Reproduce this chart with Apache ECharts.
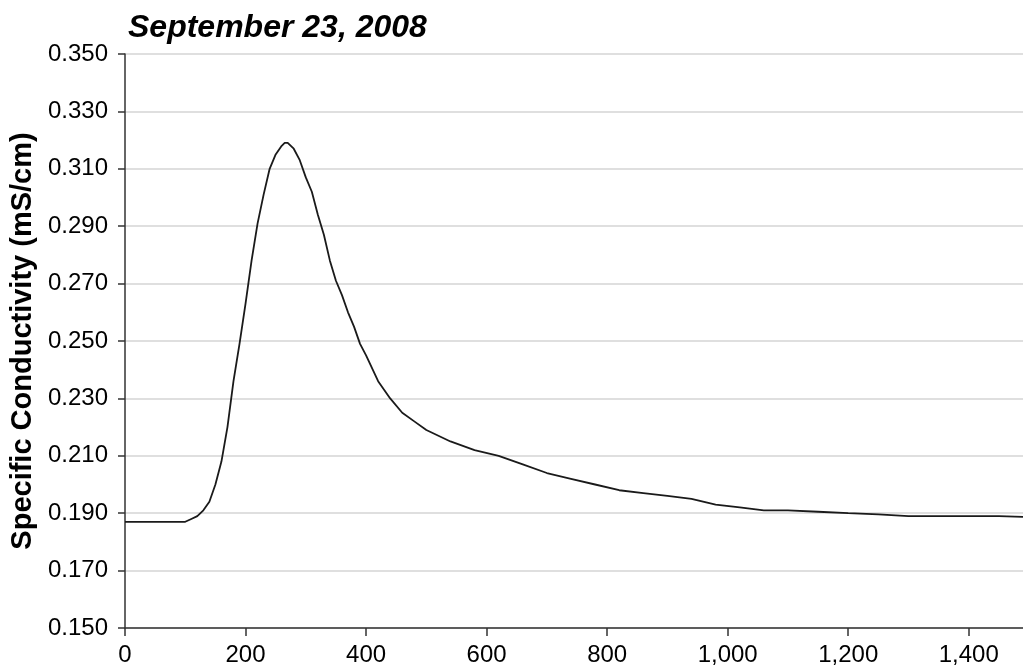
<!DOCTYPE html>
<html>
<head>
<meta charset="utf-8">
<script src="https://cdn.jsdelivr.net/npm/echarts@6/dist/echarts.min.js"></script>
<style>
html,body{margin:0;padding:0;background:#fff;}
#chart{width:1023px;height:671px;}
</style>
</head>
<body>
<div id="chart"></div>
<script>
// Elapsed time (x) and specific conductivity (mS/cm)
var timeValues = [0, 20, 40, 60, 80, 100, 110, 120, 130, 140, 150, 160, 170, 180, 190, 200, 210, 220, 230, 240, 250, 260, 265, 270, 280, 290, 300, 310, 320, 330, 340, 350, 360, 370, 380, 390, 400, 420, 440, 460, 480, 500, 540, 580, 620, 660, 700, 740, 780, 820, 860, 900, 940, 980, 1020, 1060, 1100, 1150, 1200, 1250, 1300, 1350, 1400, 1450, 1490];
var conductivity = [0.187, 0.187, 0.187, 0.187, 0.187, 0.187, 0.188, 0.189, 0.191, 0.194, 0.200, 0.208, 0.220, 0.236, 0.249, 0.263, 0.278, 0.291, 0.301, 0.310, 0.315, 0.318, 0.319, 0.319, 0.317, 0.313, 0.307, 0.302, 0.294, 0.287, 0.278, 0.271, 0.266, 0.260, 0.255, 0.249, 0.245, 0.236, 0.230, 0.225, 0.222, 0.219, 0.215, 0.212, 0.210, 0.207, 0.204, 0.202, 0.200, 0.198, 0.197, 0.196, 0.195, 0.193, 0.192, 0.191, 0.191, 0.1905, 0.190, 0.1896, 0.189, 0.189, 0.189, 0.189, 0.1887];
var titleText = 'September 23, 2008';
var yAxisTitle = 'Specific Conductivity (mS/cm)';
var xTickMin = 0, xTickMax = 1490, xTickStep = 200;
var yTickMin = 0.15, yTickMax = 0.35, yTickStep = 0.02;

var seriesData = timeValues.map(function (t, i) { return [t, conductivity[i]]; });
var FONT = '"Liberation Sans", Arial, sans-serif';

var chart = echarts.init(document.getElementById('chart'));
chart.setOption({
  animation: false,
  backgroundColor: '#ffffff',
  title: {
    text: titleText,
    left: 123,
    top: 7,
    textStyle: { fontFamily: FONT, fontSize: 32, fontWeight: 'bold', fontStyle: 'italic', color: '#000' }
  },
  grid: { left: 125, right: 0, top: 54, bottom: 43, containLabel: false },
  xAxis: {
    type: 'value',
    min: xTickMin, max: xTickMax, interval: xTickStep,
    axisLine: { onZero: false, lineStyle: { color: '#333', width: 1.5 } },
    axisTick: { show: true, length: 8, lineStyle: { color: '#333', width: 1.5 } },
    splitLine: { show: false },
    axisLabel: {
      showMaxLabel: false,
      margin: 15,
      fontFamily: FONT, fontSize: 24, color: '#000',
      formatter: function (v) { return Math.round(v).toLocaleString('en-US'); }
    }
  },
  yAxis: {
    type: 'value',
    min: yTickMin, max: yTickMax, interval: yTickStep,
    name: yAxisTitle,
    nameLocation: 'middle',
    nameRotate: 90,
    nameGap: 88,
    nameTextStyle: { fontFamily: FONT, fontSize: 29, fontWeight: 'bold', color: '#000' },
    axisLine: { show: true, onZero: false, lineStyle: { color: '#333', width: 1.5 } },
    axisTick: { show: true, length: 7, lineStyle: { color: '#333', width: 1.5 } },
    splitLine: { show: true, lineStyle: { color: '#d4d4d4', width: 1.5 } },
    axisLabel: {
      margin: 17,
      fontFamily: FONT, fontSize: 24, color: '#000',
      formatter: function (v) { return v.toFixed(3); }
    }
  },
  series: [{
    type: 'line',
    data: seriesData,
    showSymbol: false,
    smooth: false,
    lineStyle: { color: '#1a1a1a', width: 1.8 },
    clip: true
  }]
});
</script>
</body>
</html>
